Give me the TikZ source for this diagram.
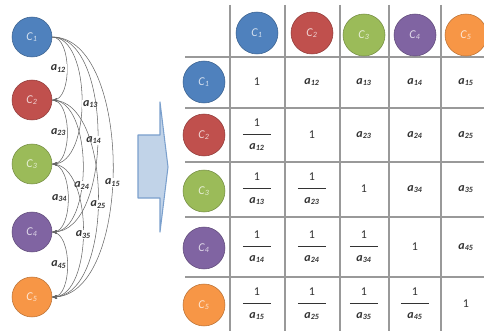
\documentclass[tikz,border=0pt]{standalone}
\usepackage{fontspec}
\setmainfont{Carlito}
\usetikzlibrary{arrows}

\definecolor{cblue}{HTML}{4F81BD}
\definecolor{cred}{HTML}{C0504D}
\definecolor{cgreen}{HTML}{9BBB59}
\definecolor{cpurple}{HTML}{8064A2}
\definecolor{corange}{HTML}{F79646}

\newcommand{\crit}[1]{\textit{C}\textsubscript{\textit{#1}}}
\newcommand{\aij}[1]{\textbf{\textit{a}}\textsubscript{\textbf{\textit{#1}}}}
\newcommand{\inv}[1]{\begin{tabular}{@{\hspace{5pt}}c@{\hspace{5pt}}}1\\[2pt]\hline\rule{0pt}{11pt}\aij{#1}\end{tabular}}

\begin{document}
\begin{tikzpicture}[x=0.75pt,y=-0.75pt,
  cnode/.style={circle,draw=#1!75!black,fill=#1,minimum size=30pt,inner sep=0pt,
    text=white!75!#1,font=\small},
  cmp/.style={->,>=stealth',draw=black!60,out=0,in=0,looseness=0.8},
  wlab/.style={font=\small,text=black!80,fill=white,inner sep=0.6pt},
  cell/.style={font=\small,text=black!80,inner sep=0pt},
  grid/.style={draw=black!40,line width=0.9pt}]

\useasboundingbox (0,0) rectangle (484,331);

% criteria on the left
\node[cnode=cblue]   (l1) at (32,37)  {\crit{1}};
\node[cnode=cred]    (l2) at (32,100) {\crit{2}};
\node[cnode=cgreen]  (l3) at (32,164) {\crit{3}};
\node[cnode=cpurple] (l4) at (32,232) {\crit{4}};
\node[cnode=corange] (l5) at (32,297) {\crit{5}};

\path (l1) edge [cmp] node[wlab,pos=0.5,anchor=east] {\aij{12}} (l2)
  (l1) edge [cmp] node[wlab,pos=0.52,anchor=west] {\aij{13}} (l3)
  (l1) edge [cmp] node[wlab,pos=0.52,xshift=-3pt] {\aij{14}} (l4)
  (l1) edge [cmp] node[wlab,pos=0.54] {\aij{15}} (l5)
  (l2) edge [cmp] node[wlab,pos=0.6] {\aij{24}} (l4)
  (l2) edge [cmp] node[wlab,pos=0.52] {\aij{25}} (l5)
  (l2) edge [cmp] node[wlab,pos=0.5,anchor=east] {\aij{23}} (l3)
  (l3) edge [cmp] node[wlab,pos=0.5,anchor=east] {\aij{34}} (l4)
  (l3) edge [cmp] node[wlab,pos=0.52] {\aij{35}} (l5)
  (l4) edge [cmp] node[wlab,pos=0.5,anchor=east] {\aij{45}} (l5);

% big arrow
\draw[draw=cblue!75,fill=cblue!35,line width=0.8pt,line join=round]
  (138,135) -- (160,135) -- (160,102) -- (168,167) -- (160,232)
  -- (160,198) -- (138,198) -- cycle;

% table grid
\foreach \x in {230,285,340,389,441}
  \draw[grid] (\x,5) -- (\x,331);
\foreach \y in {57,108,162,217,277}
  \draw[grid] (185,\y) -- (484,\y);

% header row
\node[cnode=cblue,minimum size=31.5pt]   (h1) at (257,33) {\crit{1}};
\node[cnode=cred,minimum size=31.5pt]    (h2) at (312,33) {\crit{2}};
\node[cnode=cgreen,minimum size=31.5pt]  (h3) at (364,35) {\crit{3}};
\node[cnode=cpurple,minimum size=31.5pt] (h4) at (415,35) {\crit{4}};
\node[cnode=corange,minimum size=31.5pt] (h5) at (466,35) {\crit{5}};

% header column
\node[cnode=cblue,minimum size=31.5pt]   (r1) at (204,82)  {\crit{1}};
\node[cnode=cred,minimum size=31.5pt]    (r2) at (204,135) {\crit{2}};
\node[cnode=cgreen,minimum size=31.5pt]  (r3) at (204,191) {\crit{3}};
\node[cnode=cpurple,minimum size=31.5pt] (r4) at (204,248) {\crit{4}};
\node[cnode=corange,minimum size=31.5pt] (r5) at (204,305) {\crit{5}};

% matrix entries
\node[cell] (m11) at (257,82) {1};
\node[cell] (m12) at (312,82) {\aij{12}};
\node[cell] (m13) at (364,82) {\aij{13}};
\node[cell] (m14) at (415,82) {\aij{14}};
\node[cell] (m15) at (466,82) {\aij{15}};

\node[cell] (m21) at (257,135) {\inv{12}};
\node[cell] (m22) at (312,135) {1};
\node[cell] (m23) at (364,135) {\aij{23}};
\node[cell] (m24) at (415,135) {\aij{24}};
\node[cell] (m25) at (466,135) {\aij{25}};

\node[cell] (m31) at (257,189) {\inv{13}};
\node[cell] (m32) at (312,189) {\inv{23}};
\node[cell] (m33) at (364,189) {1};
\node[cell] (m34) at (415,189) {\aij{34}};
\node[cell] (m35) at (466,189) {\aij{35}};

\node[cell] (m41) at (257,247) {\inv{14}};
\node[cell] (m42) at (312,247) {\inv{24}};
\node[cell] (m43) at (364,247) {\inv{34}};
\node[cell] (m44) at (415,247) {1};
\node[cell] (m45) at (466,247) {\aij{45}};

\node[cell] (m51) at (257,304) {\inv{15}};
\node[cell] (m52) at (312,304) {\inv{25}};
\node[cell] (m53) at (364,304) {\inv{35}};
\node[cell] (m54) at (415,304) {\inv{45}};
\node[cell] (m55) at (466,304) {1};

\end{tikzpicture}
\end{document}
